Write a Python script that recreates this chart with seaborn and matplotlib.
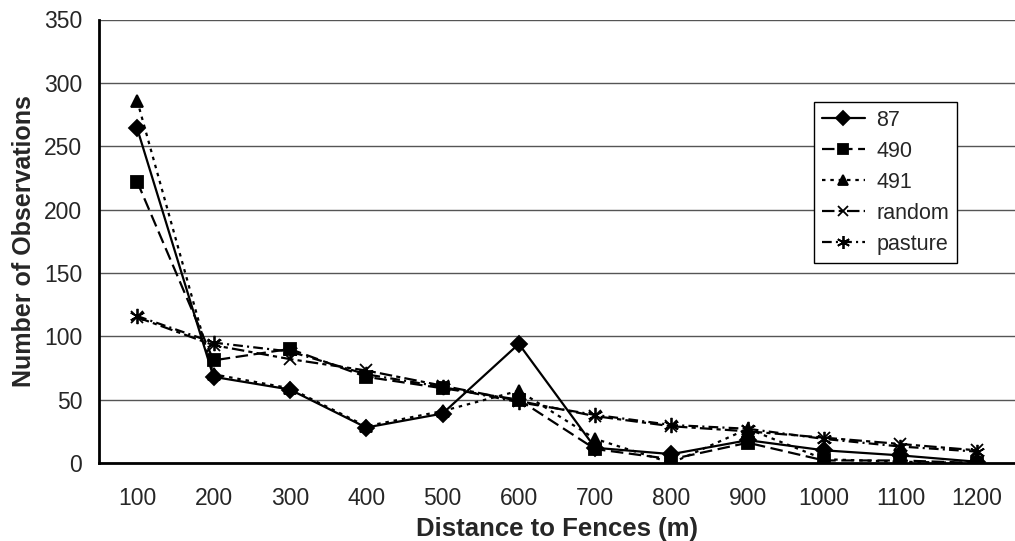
import numpy as np
import pandas as pd
import matplotlib
matplotlib.use("Agg")
import matplotlib.pyplot as plt
import seaborn as sns

# Distance classes (m) and observation counts per series
distances = ["100", "200", "300", "400", "500", "600",
             "700", "800", "900", "1000", "1100", "1200"]
obs_87 = [264, 68, 58, 28, 39, 94, 12, 7, 18, 10, 6, 1]
obs_490 = [222, 81, 90, 68, 59, 50, 11, 3, 16, 2, 2, 0]
obs_491 = [286, 70, 59, 29, 41, 57, 19, 0, 27, 3, 1, 0]
obs_random = [115, 93, 82, 73, 61, 49, 37, 29, 25, 20, 15, 10]
obs_pasture = [116, 95, 88, 70, 60, 48, 38, 30, 27, 19, 13, 9]

series_names = ["87", "490", "491", "random", "pasture"]
series_values = [obs_87, obs_490, obs_491, obs_random, obs_pasture]

df = pd.DataFrame({
    "distance": distances * len(series_names),
    "count": [v for vals in series_values for v in vals],
    "series": [n for n in series_names for _ in distances],
})

sns.set_style("white")
plt.rcParams["font.family"] = ["Liberation Sans", "DejaVu Sans"]
plt.rcParams["lines.scale_dashes"] = False

fig = plt.figure(figsize=(10.15, 5.41), dpi=100)
W, H = 1015, 541
left, right, top, bottom = 99, 1015, 19.5, 463
ax = fig.add_axes([left / W, (H - bottom) / H, (right - left) / W, (bottom - top) / H])

markers = {"87": "D", "490": "s", "491": "^", "random": "x", "pasture": (6, 2, 0)}
marker_sizes = {"87": 8.5, "490": 8, "491": 9, "random": 8.5, "pasture": 11}
line_styles = {
    "87": "-",
    "490": (0, (9, 4)),
    "491": (0, (2.5, 3.5)),
    "random": (0, (9, 3, 3, 3)),
    "pasture": (0, (7, 3, 1.5, 3)),
}

for name in series_names:
    sub = df[df["series"] == name]
    sns.lineplot(
        data=sub, x="distance", y="count", label=name,
        marker=markers[name], markersize=marker_sizes[name],
        linestyle=line_styles[name], color="black", linewidth=1.6,
        markeredgecolor="black", markeredgewidth=1.3,
        sort=False, ax=ax,
    )

# Axes limits and category ticks
ax.set_ylim(0, 350)
ax.set_xlim(-0.5, -0.5 + (right - left) / 76.5)
ax.set_yticks(np.arange(0, 351, 50))
ax.set_xticks(np.arange(len(distances)))
ax.set_xticklabels(distances)
ax.set_xticks(np.arange(-0.5, len(distances) + 0.5, 1), minor=True)
ax.tick_params(axis="x", which="major", length=0, pad=17, labelsize=16.5)
ax.tick_params(axis="x", which="minor", length=6, width=1, color="black", direction="out")
ax.tick_params(axis="y", length=6, width=1, color="black", direction="out",
               pad=6, labelsize=16.5)

ax.yaxis.grid(True, color="#555555", linewidth=1)
ax.xaxis.grid(False)
ax.set_axisbelow(True)

for side in ["top", "right"]:
    ax.spines[side].set_visible(False)
for side in ["left", "bottom"]:
    ax.spines[side].set_color("black")
    ax.spines[side].set_linewidth(2)

ax.set_xlabel("Distance to Fences (m)", fontsize=18.5, fontweight="bold", labelpad=5)
ax.set_ylabel("Number of Observations", fontsize=18, fontweight="bold", labelpad=6)

handles, labels = ax.get_legend_handles_labels()
leg = ax.legend(
    handles, labels, loc="upper left",
    bbox_to_anchor=((814 - left) / (right - left), (bottom - 102) / (bottom - top)),
    borderaxespad=0, fontsize=15.5, handlelength=2.0, handletextpad=0.55,
    labelspacing=0.47, borderpad=0.35, fancybox=False, framealpha=1,
    edgecolor="black", markerscale=0.85,
)
leg.get_frame().set_linewidth(1)

fig.savefig("out.png", dpi=100)
